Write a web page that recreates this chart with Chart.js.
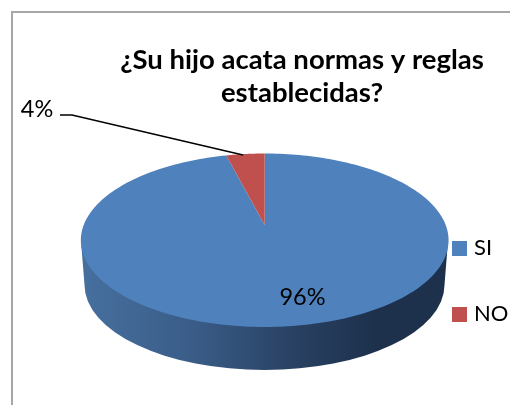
<!DOCTYPE html>
<html><head><meta charset="utf-8">
<style>html,body{margin:0;padding:0;background:#fff}#w{position:relative;width:510px;height:405px;overflow:hidden}canvas{display:block}</style>
<script src="https://cdn.jsdelivr.net/npm/chart.js@4/dist/chart.umd.js"></script>
</head><body><div id="w"><canvas id="c" width="510" height="405"></canvas></div>
<script>
const categories = ['SI', 'NO'];
const values = [96, 4];
const sliceColors = ['#4f81bd', '#c0504d'];
const titleLines = ['¿Su hijo acata normas y reglas', 'establecidas?'];
const FONT = 'Lato, Carlito, sans-serif';

// Perspective projection of the unit pie disc on to the page
const P = {cx: 264.7, tipY: 225, a: 44.5, c: -0.1758, d: 181};
function project(theta) {            // theta in Chart.js radians (0 = +x, clockwise)
  const u = Math.cos(theta), v = Math.sin(theta), w = 1 + P.c * v;
  return [P.cx + P.d * u / w, (P.tipY + P.a * v) / w];
}
// legend swatch: 15px square, offset so the label sits 7px after it
function swatch(color) {
  const s = document.createElement('canvas');
  s.width = 19; s.height = 15;
  const x = s.getContext('2d');
  x.fillStyle = color;
  x.fillRect(4, 0, 15, 15);
  return s;
}
const pie3d = {
  id: 'pie3d',
  afterLayout(chart) {
    const l = chart.legend, pad = l.options.labels.padding;
    l.left = 452 - pad;
    l.right = 510;
    l.top = 237 - pad;
    l.bottom = 405;
  },
  beforeDatasetsDraw(chart) {
    const ctx = chart.ctx;
    ctx.save();
    ctx.fillStyle = '#a6a6a6';
    ctx.fillRect(11, 11, 499, 2);
    ctx.fillRect(11, 11, 2, 394);
    ctx.restore();
  },
  beforeDatasetDraw(chart) {
    const ctx = chart.ctx, arcs = chart.getDatasetMeta(0).data;
    ctx.save();
    const g = ctx.createLinearGradient(80, 0, 448, 0);
    g.addColorStop(0, '#47709f');
    g.addColorStop(0.30, '#3a5d88');
    g.addColorStop(0.60, '#283f60');
    g.addColorStop(0.80, '#1d314d');
    g.addColorStop(1, '#1d314d');
    ctx.fillStyle = g;
    ctx.beginPath();
    ctx.moveTo(81, 241);
    ctx.lineTo(84.5, 285);
    ctx.ellipse(264.5, 285, 180, 85, 0, Math.PI, 0, true);
    ctx.lineTo(448, 241);
    ctx.closePath();
    ctx.fill();
    arcs.forEach((arc, i) => {
      const {startAngle, endAngle} = arc.getProps(['startAngle', 'endAngle'], true);
      ctx.beginPath();
      ctx.moveTo(P.cx, P.tipY);
      const n = 240;
      for (let k = 0; k <= n; k++) {
        const p = project(startAngle + (endAngle - startAngle) * k / n);
        ctx.lineTo(p[0], p[1]);
      }
      ctx.closePath();
      ctx.fillStyle = sliceColors[i];
      ctx.fill();
    });
    ctx.restore();
    return false;
  },
  afterDatasetsDraw(chart) {
    const ctx = chart.ctx;
    ctx.save();
    ctx.fillStyle = '#000';
    ctx.font = '23.5px ' + FONT;
    ctx.textAlign = 'center';
    ctx.textBaseline = 'middle';
    ctx.fillText(values[0] + '%', 302.5, 297);
    ctx.fillText(values[1] + '%', 37, 109.5);
    ctx.strokeStyle = '#000';
    ctx.lineWidth = 1.5;
    ctx.beginPath();
    ctx.moveTo(60, 115);
    ctx.lineTo(72, 115);
    ctx.lineTo(243, 155);
    ctx.stroke();
    ctx.restore();
  }
};
new Chart(document.getElementById('c'), {
  type: 'pie',
  data: {labels: categories, datasets: [{data: values, backgroundColor: sliceColors, borderWidth: 0}]},
  plugins: [pie3d],
  options: {
    responsive: false,
    animation: false,
    layout: {padding: {left: 94, top: 0, right: 0, bottom: 0}},
    plugins: {
      tooltip: {enabled: false},
      title: {display: true, text: titleLines, color: '#000', font: {family: FONT, size: 27.5, weight: 'bold', lineHeight: 1.2}, padding: {top: 43.5, bottom: 0}},
      legend: {position: 'right', align: 'start', labels: {
        usePointStyle: true, pointStyleWidth: 11, boxHeight: 15, padding: 44, color: '#000',
        font: {family: FONT, size: 22},
        generateLabels: () => categories.map((text, i) => ({text, fillStyle: sliceColors[i], strokeStyle: sliceColors[i], lineWidth: 0, pointStyle: swatch(sliceColors[i]), index: i}))
      }}
    }
  }
});
</script></body></html>
